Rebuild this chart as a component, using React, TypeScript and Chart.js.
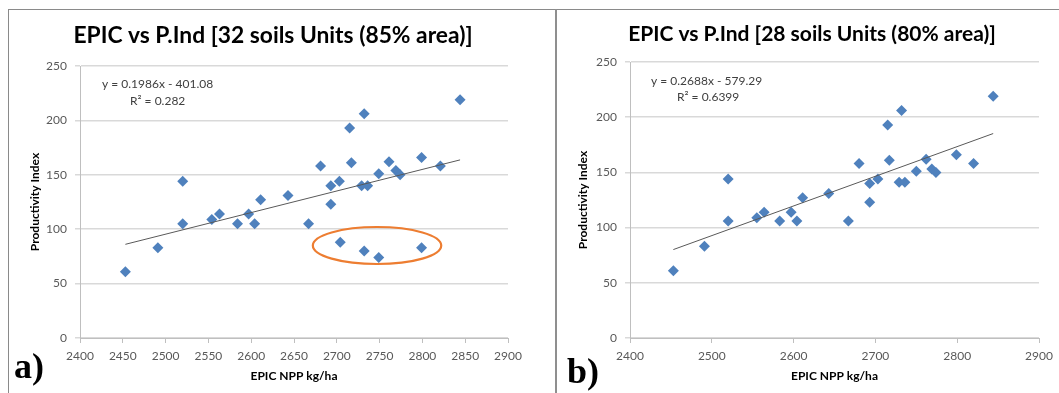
import React, { useEffect, useRef } from "react";
import { Chart, registerables } from "chart.js";

Chart.register(...registerables);

// ---- Data ----
// Panel a): 32 soil units
const xA = [2453, 2491, 2520, 2520, 2554, 2563, 2584, 2597, 2604, 2611, 2643, 2667, 2681, 2693, 2693, 2703, 2704, 2715, 2717, 2732, 2729, 2736, 2732, 2749, 2749, 2761, 2769, 2774, 2799, 2799, 2821, 2844];
const yA = [61, 83, 144, 105, 109, 114, 105, 114, 105, 127, 131, 105, 158, 140, 123, 144, 88, 193, 161, 206, 140, 140, 80, 74, 151, 162, 154, 150, 166, 83, 158, 219];
// Panel b): 28 soil units
const xB = [2453, 2491, 2520, 2520, 2555, 2564, 2583, 2597, 2604, 2611, 2643, 2667, 2680, 2693, 2693, 2703, 2715, 2717, 2732, 2729, 2736, 2750, 2762, 2769, 2774, 2799, 2820, 2844];
const yB = [61, 83, 144, 106, 109, 114, 106, 114, 106, 127, 131, 106, 158, 140, 123, 144, 193, 161, 206, 141, 141, 151, 162, 153, 150, 166, 158, 219];
// Trend lines (endpoints as drawn)
const trendAX = [2453, 2844];
const trendAY = [86.1, 163.7];
const trendBX = [2453, 2844];
const trendBY = [80.1, 185.2];
// Texts
const titleA = "EPIC vs P.Ind [32 soils Units (85% area)]";
const titleB = "EPIC vs P.Ind [28 soils Units (80% area)]";
const eqA = ["y = 0.1986x - 401.08", "R\u00B2 = 0.282"];
const eqB = ["y = 0.2688x - 579.29", "R\u00B2 = 0.6399"];
const xTitle = "EPIC NPP kg/ha";
const yTitle = "Productivity Index";
// Highlight oval (data coords) on panel a)
const ovalCenter = [2747, 85];
const ovalRadius = [75, 17];

const FONT = "Lato, 'Open Sans', sans-serif";
const TICK_COLOR = "#595959";
const GRID_COLOR = "#d9d9d9";
const AXIS_COLOR = "#bfbfbf";
const POINT_COLOR = "#4F81BD";

type Extra = {
  title: string;
  titleX: number;
  titleY: number;
  titleSize: number;
  eq: string[];
  eqX: number[];
  eqY: number[];
  label: string;
  labelX: number;
  labelY: number;
  oval?: boolean;
};

function extrasPlugin(e: Extra) {
  return {
    id: "extras",
    afterDatasetsDraw(chart: any) {
      if (!e.oval) return;
      const xs = chart.scales.x;
      const ys = chart.scales.y;
      const cx = xs.getPixelForValue(ovalCenter[0]);
      const cy = ys.getPixelForValue(ovalCenter[1]);
      const rx = Math.abs(xs.getPixelForValue(ovalCenter[0] + ovalRadius[0]) - cx);
      const ry = Math.abs(ys.getPixelForValue(ovalCenter[1] + ovalRadius[1]) - cy);
      const ctx = chart.ctx;
      ctx.save();
      ctx.beginPath();
      ctx.ellipse(cx, cy, rx, ry, 0, 0, Math.PI * 2);
      ctx.strokeStyle = "#ED7D31";
      ctx.lineWidth = 2.2;
      ctx.stroke();
      ctx.restore();
    },
    afterDraw(chart: any) {
      const ctx = chart.ctx;
      ctx.save();
      ctx.fillStyle = "#000";
      ctx.textAlign = "center";
      ctx.textBaseline = "alphabetic";
      ctx.font = `bold ${e.titleSize}px ${FONT}`;
      ctx.fillText(e.title, e.titleX, e.titleY);

      ctx.fillStyle = "#404040";
      ctx.textAlign = "left";
      ctx.textBaseline = "middle";
      ctx.font = `12px ${FONT}`;
      e.eq.forEach((t, i) => ctx.fillText(t, e.eqX[i], e.eqY[i]));

      ctx.fillStyle = "#000";
      ctx.textBaseline = "alphabetic";
      ctx.font = `bold 36px 'Liberation Serif', 'Times New Roman', serif`;
      ctx.fillText(e.label, e.labelX, e.labelY);
      ctx.restore();
    },
  };
}

function makeChart(
  canvas: HTMLCanvasElement,
  xs: number[],
  ys: number[],
  tx: number[],
  ty: number[],
  step: number,
  pad: { left: number; top: number; right: number },
  plotLeft: number,
  yTitlePad: number,
  extra: Extra
) {
  const pts = xs.map((x, i) => ({ x, y: ys[i] }));
  const trend = tx.map((x, i) => ({ x, y: ty[i] }));
  return new Chart(canvas, {
    type: "scatter",
    data: {
      datasets: [
        {
          type: "line",
          data: trend,
          borderColor: "#595959",
          borderWidth: 1,
          pointRadius: 0,
          fill: false,
        } as any,
        {
          data: pts,
          pointStyle: "rectRot",
          pointRadius: 5.5,
          pointHoverRadius: 5.5,
          backgroundColor: POINT_COLOR,
          borderColor: POINT_COLOR,
          borderWidth: 0,
        },
      ],
    },
    options: {
      animation: false,
      responsive: false,
      devicePixelRatio: 1,
      layout: { padding: { left: pad.left, top: pad.top, right: pad.right, bottom: 0 } },
      plugins: { legend: { display: false }, tooltip: { enabled: false }, title: { display: false } },
      scales: {
        x: {
          type: "linear",
          min: 2400,
          max: 2900,
          ticks: {
            stepSize: step,
            color: TICK_COLOR,
            font: { family: FONT, size: 12 },
            padding: 6,
            maxRotation: 0,
            callback: (v: any) => String(v),
          },
          grid: { drawOnChartArea: false, drawTicks: true, tickLength: 5, color: AXIS_COLOR },
          border: { display: true, color: AXIS_COLOR },
          title: {
            display: true,
            text: xTitle,
            color: "#000",
            font: { family: FONT, size: 12, weight: "bold" },
            padding: { top: 0, bottom: 9.8 },
          },
          afterFit: (s: any) => {
            s.height = 55;
          },
        },
        y: {
          min: 0,
          max: 250,
          ticks: { stepSize: 50, color: TICK_COLOR, font: { family: FONT, size: 12 }, padding: 8 },
          grid: { color: GRID_COLOR, lineWidth: 1.5, tickLength: 5 },
          border: { display: true, color: AXIS_COLOR },
          title: {
            display: true,
            text: yTitle,
            color: "#000",
            font: { family: FONT, size: 12, weight: "bold" },
            padding: { top: yTitlePad, bottom: 0 },
          },
          afterFit: (s: any) => {
            s.width = plotLeft - pad.left;
          },
        },
      },
    },
    plugins: [extrasPlugin(extra)],
  } as any);
}

export default function App() {
  const refA = useRef<HTMLCanvasElement>(null);
  const refB = useRef<HTMLCanvasElement>(null);

  useEffect(() => {
    const a = makeChart(
      refA.current!,
      xA,
      yA,
      trendAX,
      trendAY,
      50,
      { left: 8, top: 66, right: 47 },
      80,
      19.8,
      {
        title: titleA,
        titleX: 273,
        titleY: 43,
        titleSize: 22.8,
        eq: eqA,
        eqX: [102, 130],
        eqY: [84, 101],
        label: "a)",
        labelX: 14,
        labelY: 378,
        oval: true,
      }
    );
    const b = makeChart(
      refB.current!,
      xB,
      yB,
      trendBX,
      trendBY,
      100,
      { left: 4, top: 62, right: 20 },
      73,
      14.8,
      {
        title: titleB,
        titleX: 255,
        titleY: 40.7,
        titleSize: 21,
        eq: eqB,
        eqX: [94, 120],
        eqY: [81, 97],
        label: "b)",
        labelX: 10,
        labelY: 383,
      }
    );
    return () => {
      a.destroy();
      b.destroy();
    };
  }, []);

  return (
    <div style={{ position: "absolute", left: 0, top: 0, width: 1059, height: 393, background: "#fff", overflow: "hidden" }}>
      <canvas ref={refA} width={555} height={393} style={{ position: "absolute", left: 0, top: 0, width: 555, height: 393 }} />
      <canvas ref={refB} width={502} height={393} style={{ position: "absolute", left: 557, top: 0, width: 502, height: 393 }} />
      <div style={{ position: "absolute", left: 8, top: 9, width: 1051, height: 1, background: "#8a8a8a" }} />
      <div style={{ position: "absolute", left: 8, top: 9, width: 1, height: 384, background: "#8a8a8a" }} />
      <div style={{ position: "absolute", left: 555, top: 9, width: 2, height: 384, background: "#8f8f8f" }} />
    </div>
  );
}
